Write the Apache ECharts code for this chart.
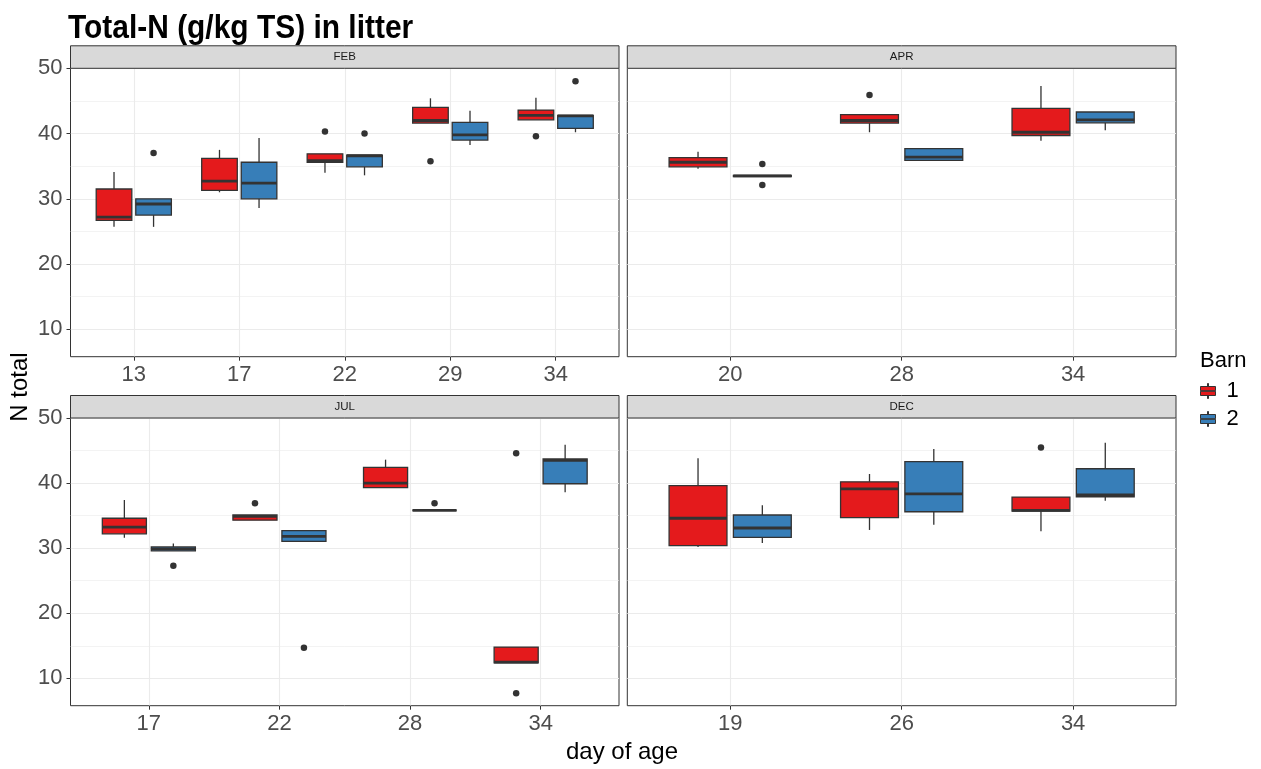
<!DOCTYPE html>
<html><head><meta charset="utf-8">
<script src="https://cdn.jsdelivr.net/npm/echarts@6/dist/echarts.min.js"></script>
<style>html,body{margin:0;padding:0;background:#fff}#c{width:1261px;height:769px}</style>
</head><body><div id="c"></div>
<script>
// ---------- data ----------
const chartTitle = 'Total-N (g/kg TS) in litter';
const xTitle = 'day of age';
const yTitle = 'N total';
const legendTitle = 'Barn';
const monthNames = ['FEB', 'APR', 'JUL', 'DEC'];
const barnNames = ['1', '2'];
const yTicks = [10, 20, 30, 40, 50];
const yMinorTicks = [15, 25, 35, 45];

// box stats per day: [lower whisker, Q1, median, Q3, upper whisker]
const febDays = ['13', '17', '22', '29', '34'];
const febBarn1 = [[25.7, 26.7, 27.2, 31.5, 34.1], [31.0, 31.3, 32.7, 36.2, 37.5], [34.0, 35.6, 35.85, 36.9, 36.9], [41.6, 41.6, 42.0, 44.0, 45.4], [42.1, 42.1, 42.8, 43.6, 45.5]];
const febBarn2 = [[25.7, 27.5, 29.2, 30.0, 30.0], [28.6, 30.0, 32.4, 35.6, 39.3], [33.6, 34.9, 36.6, 36.7, 36.7], [38.25, 39.0, 39.8, 41.7, 43.5], [40.2, 40.8, 42.7, 42.8, 42.8]];
const febOut1 = [['22', 40.3], ['29', 35.75], ['34', 39.6]];
const febOut2 = [['13', 37.0], ['22', 40.0], ['34', 48.0]];

const aprDays = ['20', '28', '34'];
const aprBarn1 = [[34.6, 34.9, 35.6, 36.3, 37.2], [40.2, 41.6, 42.0, 42.9, 42.9], [38.9, 39.7, 40.2, 43.85, 47.3]];
const aprBarn2 = [[33.4, 33.4, 33.5, 33.6, 33.6], [35.9, 35.9, 36.4, 37.7, 37.8], [40.5, 41.65, 42.1, 43.3, 43.3]];
const aprOut1 = [['28', 45.9]];
const aprOut2 = [['20', 35.35], ['20', 32.1]];

const julDays = ['17', '22', '28', '34'];
const julBarn1 = [[31.6, 32.2, 33.25, 34.6, 37.4], [34.3, 34.3, 34.9, 35.1, 35.1], [39.3, 39.3, 40.0, 42.4, 43.6], [12.4, 12.4, 12.5, 14.8, 14.8]];
const julBarn2 = [[29.6, 29.6, 29.9, 30.2, 30.7], [31.05, 31.05, 31.8, 32.7, 32.7], [35.8, 35.8, 35.8, 35.8, 35.8], [38.6, 39.9, 43.5, 43.7, 45.9]];
const julOut1 = [['22', 36.9], ['34', 44.6], ['34', 7.7]];
const julOut2 = [['17', 27.3], ['22', 14.7], ['28', 36.9]];

const decDays = ['19', '26', '34'];
const decBarn1 = [[30.2, 30.4, 34.6, 39.6, 43.8], [32.8, 34.7, 39.1, 40.2, 41.4], [32.6, 35.7, 35.8, 37.85, 37.85]];
const decBarn2 = [[30.8, 31.65, 33.1, 35.1, 36.6], [33.6, 35.6, 38.35, 43.3, 45.25], [37.3, 37.9, 38.2, 42.2, 46.2]];
const decOut1 = [['34', 45.45]];
const decOut2 = [];

// ---------- layout & style ----------
const FONT = '"Liberation Sans", Arial, Helvetica, sans-serif';
const barnColors = ['#E41A1C', '#377EB8'];
const Y_MIN = 5.8, Y_MAX = 50.0;
const DODGE = 0.1875, BOX_W = 0.3375;
const panelRects = [
  { left: 70.5, top: 68.3, width: 548.5, height: 288.4 },
  { left: 627.3, top: 68.3, width: 548.7, height: 288.4 },
  { left: 70.5, top: 418, width: 548.5, height: 287.7 },
  { left: 627.3, top: 418, width: 548.7, height: 287.7 }
];
const STRIP_H = 22.5;

const panels = [
  { days: febDays, boxes: [febBarn1, febBarn2], outs: [febOut1, febOut2] },
  { days: aprDays, boxes: [aprBarn1, aprBarn2], outs: [aprOut1, aprOut2] },
  { days: julDays, boxes: [julBarn1, julBarn2], outs: [julOut1, julOut2] },
  { days: decDays, boxes: [decBarn1, decBarn2], outs: [decOut1, decOut2] }
];

function renderBox(params, api) {
  const x = api.value(0);
  const pts = [1, 2, 3, 4, 5].map(d => api.coord([x, api.value(d)]));
  const hw = api.size([BOX_W, 0])[0] / 2;
  const cx = pts[0][0];
  const color = api.visual('color');
  const lw = 1.3;
  return {
    type: 'group', children: [
      { type: 'line', shape: { x1: cx, y1: pts[4][1], x2: cx, y2: pts[3][1] }, style: { stroke: '#333', lineWidth: lw } },
      { type: 'line', shape: { x1: cx, y1: pts[1][1], x2: cx, y2: pts[0][1] }, style: { stroke: '#333', lineWidth: lw } },
      { type: 'rect', shape: { x: cx - hw, y: pts[3][1], width: 2 * hw, height: pts[1][1] - pts[3][1] }, style: { fill: color, stroke: '#333', lineWidth: lw } },
      { type: 'line', shape: { x1: cx - hw, y1: pts[2][1], x2: cx + hw, y2: pts[2][1] }, style: { stroke: '#333', lineWidth: 2.8 } }
    ]
  };
}

const grids = [], xAxes = [], yAxes = [], series = [], graphics = [];
panels.forEach((p, k) => {
  const r = panelRects[k];
  const isLeft = (k % 2 === 0);
  const n = p.days.length;
  const xTicks = p.days.map((d, i) => i + 1);
  grids.push({ left: r.left, top: r.top, width: r.width, height: r.height, show: true, borderColor: '#333', borderWidth: 1, backgroundColor: 'transparent', containLabel: false });
  xAxes.push({
    gridIndex: k, type: 'value', min: 0.4, max: n + 0.6,
    axisLine: { show: false },
    axisTick: { show: true, customValues: xTicks, length: 4, lineStyle: { color: '#333', width: 1 } },
    axisLabel: { show: true, customValues: xTicks, formatter: v => (p.days[Math.round(v) - 1] || ''), fontSize: 22, color: '#4d4d4d', margin: 7, fontFamily: FONT },
    splitLine: { show: true, lineStyle: { color: '#ebebeb', width: 1.1 } }
  });
  yAxes.push({
    gridIndex: k, type: 'value', min: Y_MIN, max: Y_MAX, position: 'left',
    axisLine: { show: false },
    axisTick: { show: isLeft, customValues: yTicks, length: 4, lineStyle: { color: '#333', width: 1 } },
    axisLabel: { show: isLeft, customValues: yTicks, fontSize: 22, color: '#4d4d4d', margin: 8, fontFamily: FONT },
    splitLine: { show: true, lineStyle: { color: '#ebebeb', width: 1.1 } }
  });
  yAxes.push({
    gridIndex: k, type: 'value', min: Y_MIN, max: Y_MAX, position: 'left',
    axisLine: { show: false },
    axisTick: { show: false, customValues: yMinorTicks },
    axisLabel: { show: false, customValues: yMinorTicks },
    splitLine: { show: true, lineStyle: { color: '#ebebeb', width: 0.6 } }
  });
  p.boxes.forEach((stats, b) => {
    const off = b === 0 ? -DODGE : DODGE;
    series.push({
      type: 'custom', name: barnNames[b], xAxisIndex: k, yAxisIndex: 2 * k,
      itemStyle: { color: barnColors[b] }, clip: false, silent: true,
      encode: { x: 0, y: [1, 2, 3, 4, 5] },
      renderItem: renderBox,
      data: stats.map((s, i) => [i + 1 + off].concat(s)),
      z: 3
    });
    series.push({
      type: 'scatter', name: 'outlier' + barnNames[b], xAxisIndex: k, yAxisIndex: 2 * k,
      symbolSize: 6.5, itemStyle: { color: '#333', opacity: 1 }, silent: true,
      data: p.outs[b].map(o => [p.days.indexOf(o[0]) + 1 + off, o[1]]),
      z: 4
    });
  });
  // facet strip
  graphics.push({ type: 'rect', shape: { x: r.left, y: r.top - STRIP_H, width: r.width, height: STRIP_H }, style: { fill: '#d9d9d9', stroke: '#333', lineWidth: 1 }, z: 10 });
  graphics.push({ type: 'text', x: r.left + r.width / 2, y: r.top - STRIP_H / 2, style: { text: monthNames[k], fontSize: 11.5, fontFamily: FONT, fill: '#1a1a1a', textAlign: 'center', textVerticalAlign: 'middle' }, z: 11 });
});

graphics.push({ type: 'text', x: 68, y: 12, scaleX: 0.88, style: { text: chartTitle, fontSize: 34, fontWeight: 'bold', fontFamily: FONT, fill: '#000', textAlign: 'left', textVerticalAlign: 'top' }, z: 11 });
graphics.push({ type: 'text', x: 622, y: 752, style: { text: xTitle, fontSize: 24, fontFamily: FONT, fill: '#000', textAlign: 'center', textVerticalAlign: 'middle' }, z: 11 });
graphics.push({ type: 'text', x: 20, y: 387, rotation: Math.PI / 2, style: { text: yTitle, fontSize: 24, fontFamily: FONT, fill: '#000', textAlign: 'center', textVerticalAlign: 'middle' }, z: 11 });
graphics.push({ type: 'text', x: 1200, y: 361, style: { text: legendTitle, fontSize: 22, fontFamily: FONT, fill: '#000', textAlign: 'left', textVerticalAlign: 'middle' }, z: 11 });

const keyIcon = 'path://M7,0H8V3H7ZM0,3H15V7.2H0ZM0,7.8H15V12H0ZM7,12H8V15H7Z';

const chart = echarts.init(document.getElementById('c'), null, { renderer: 'canvas' });
chart.setOption({
  backgroundColor: '#fff',
  animation: false,
  grid: grids, xAxis: xAxes, yAxis: yAxes, series: series,
  legend: {
    orient: 'vertical', left: 1200, top: 380, itemWidth: 15, itemHeight: 17, itemGap: 6,
    selectedMode: false, padding: 0,
    data: barnNames.map((nm, b) => ({ name: nm, icon: keyIcon, itemStyle: { color: barnColors[b], borderColor: '#333', borderWidth: 1 } })),
    textStyle: { fontSize: 22, color: '#000', fontFamily: FONT, padding: [0, 0, 0, 6] }
  },
  graphic: graphics
});
</script></body></html>
